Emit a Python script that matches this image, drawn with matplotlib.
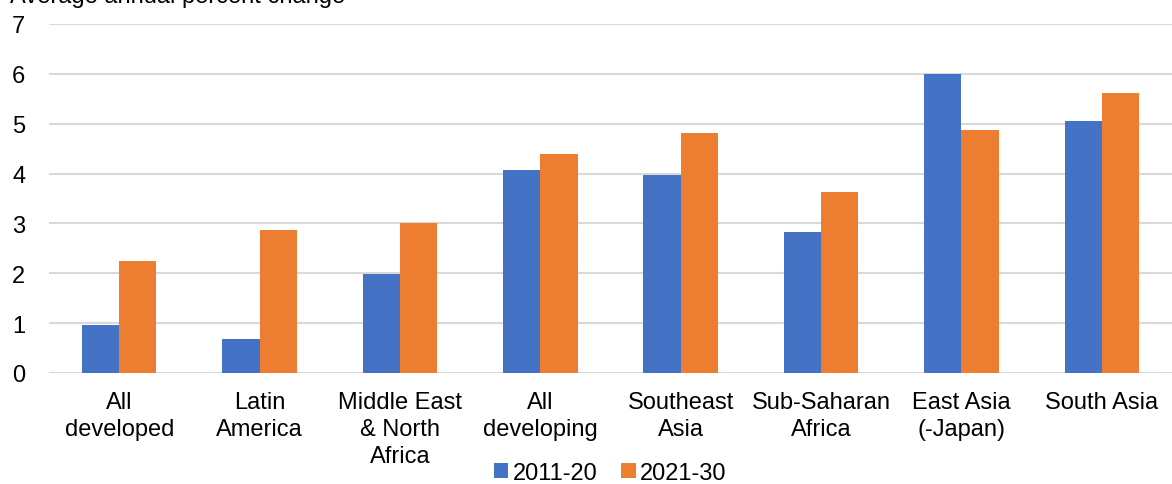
import numpy as np
import matplotlib.pyplot as plt

plt.rcParams['font.family'] = ['Liberation Sans', 'DejaVu Sans']

categories = ['All\ndeveloped', 'Latin\nAmerica', 'Middle East\n& North\nAfrica', 'All\ndeveloping',
              'Southeast\nAsia', 'Sub-Saharan\nAfrica', 'East Asia\n(-Japan)', 'South Asia']
s2011 = [0.97, 0.68, 1.98, 4.07, 3.97, 2.83, 5.99, 5.05]
s2021 = [2.24, 2.87, 3.00, 4.39, 4.81, 3.63, 4.87, 5.61]
series_names = ['2011-20', '2021-30']

fig = plt.figure(figsize=(11.72, 4.85), dpi=100)
ax = fig.add_axes([49/1172, 1 - 374/485, (1172-49)/1172, (374-25)/485])

x = np.arange(len(categories))
w = 0.265
ax.bar(x - w/2, s2011, w, color='#4472C4', label=series_names[0], zorder=3)
ax.bar(x + w/2, s2021, w, color='#ED7D31', label=series_names[1], zorder=3)

ax.set_xlim(-0.5, len(categories) - 0.5)
ax.set_ylim(0, 7)
ax.set_yticks(range(0, 8))
ax.yaxis.grid(True, color='#d9d9d9', linewidth=1.5, zorder=0)
for s in ax.spines.values():
    s.set_visible(False)
ax.axhline(0, color='#d9d9d9', linewidth=1.5, zorder=1)
ax.tick_params(axis='both', length=0, labelsize=17, colors='black')
ax.tick_params(axis='y', pad=17)
ax.tick_params(axis='x', pad=13)
ax.set_xticks(x)
ax.set_xticklabels(categories, linespacing=1.3)

fig.text(10/1172, 1 - (-3)/485, 'Average annual percent change', fontsize=17, va='center', ha='left')

ax.legend(loc='center', bbox_to_anchor=(0.5, (374-474)/349), ncol=2, frameon=False,
          fontsize=17, handlelength=0.6, handleheight=0.6, handletextpad=0.2, columnspacing=1.0)

fig.savefig('out.png', dpi=100)
